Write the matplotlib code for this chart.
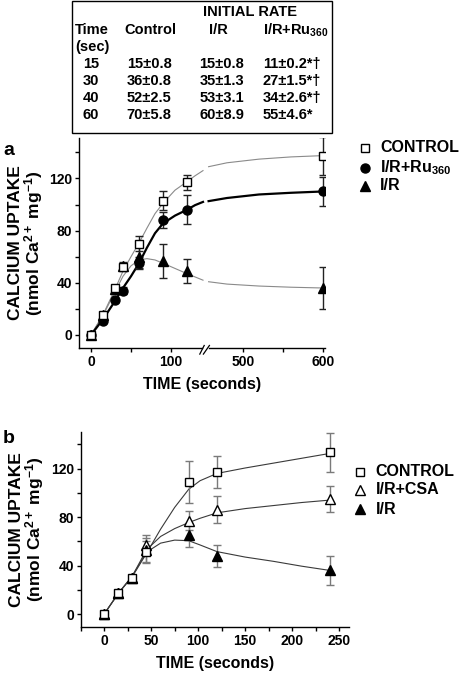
import numpy as np
import matplotlib
matplotlib.use("Agg")
import matplotlib.pyplot as plt
from matplotlib.lines import Line2D
from matplotlib.patches import Rectangle

plt.rcParams['font.family'] = ['Liberation Sans', 'DejaVu Sans']
plt.rcParams['font.weight'] = 'bold'
plt.rcParams['axes.labelweight'] = 'bold'
plt.rcParams['mathtext.fontset'] = 'custom'
plt.rcParams['mathtext.rm'] = 'Liberation Sans:bold'
plt.rcParams['mathtext.it'] = 'Liberation Sans:bold'
plt.rcParams['mathtext.bf'] = 'Liberation Sans:bold'
plt.rcParams['mathtext.default'] = 'rm'

# ---- table data ----
tab_times = ['15', '30', '40', '60']
tab_control = ['15±0.8', '36±0.8', '52±2.5', '70±5.8']
tab_ir = ['15±0.8', '35±1.3', '53±3.1', '60±8.9']
tab_ru = ['11±0.2*†', '27±1.5*†', '34±2.6*†', '55±4.6*']

# ---- panel a data ----
time_a = [0, 15, 30, 40, 60, 90, 120, 600]
ctrl_a = [0, 15, 36, 52, 70, 103, 117, 137.5]
ctrl_a_err = [0, 0.8, 0.8, 2.5, 5.8, 7, 6, 14.5]
ru_a = [0, 11, 27, 34, 55, 88, 96, 110]
ru_a_err = [0, 0.2, 1.5, 2.6, 4.6, 6, 11, 11]
ir_a = [0, 15, 35, 53, 60, 57, 49, 36]
ir_a_err = [0, 0.8, 1.3, 3.1, 8.9, 13, 9, 16]

# fitted curves (before / after the axis break)
fit_a_t1 = [0, 15, 30, 40, 50, 60, 70, 80, 90, 105, 120, 130, 140]
fit_a_t2 = [457, 480, 520, 560, 600]
ctrl_fit_a1 = [0, 15.5, 35, 49, 60, 70.5, 82, 93, 101, 111, 117.5, 122, 126]
ctrl_fit_a2 = [129, 132, 134.8, 136.5, 137.5]
ru_fit_a1 = [0, 12, 26, 36, 45, 55, 67, 78, 85.5, 91.5, 96, 99.5, 102]
ru_fit_a2 = [102.6, 105, 107.7, 109, 110]
ir_fit_a1 = [0, 15, 33, 45, 53, 57.5, 58.5, 57.5, 55, 51, 47, 44.5, 42]
ir_fit_a2 = [40.8, 39, 37.5, 36.6, 36]

# ---- panel b data ----
time_b = [0, 15, 30, 45, 90, 120, 240]
ctrl_b = [0, 17, 30, 51.5, 109, 117, 133.5]
ctrl_b_err = [0, 2, 2, 9, 17, 13, 16]
csa_b = [0, 17, 30, 57, 77, 86, 95]
csa_b_err = [0, 2, 2, 8, 8, 11, 11]
ir_b = [0, 17, 30, 53, 65, 48, 36]
ir_b_err = [0, 2, 2, 10, 10, 9, 12]

fit_b_t = [0, 15, 30, 45, 60, 75, 90, 102, 120, 150, 180, 210, 240]
ctrl_fit_b = [0, 17, 31, 50, 70, 88, 103, 110, 116, 120.5, 124.5, 128.5, 132.5]
csa_fit_b = [0, 17, 31.5, 53, 64, 70.5, 75.5, 79, 83.5, 87, 89.5, 92, 94]
ir_fit_b = [0, 17, 31.5, 51, 58.5, 61, 60.5, 57, 51.5, 47, 43.5, 39.5, 36]

W, H = 464, 674


def px(x, y):
    return x / W, 1 - y / H


BRK_LO, BRK_HI = 143, 453


def fwd(t):
    t = np.asarray(t, dtype=float)
    return np.where(t <= BRK_LO, t, np.where(t >= BRK_HI, t - (BRK_HI - BRK_LO), BRK_LO))


def inv(x):
    x = np.asarray(x, dtype=float)
    return np.where(x <= BRK_LO, x, x + (BRK_HI - BRK_LO))


fig = plt.figure(figsize=(W / 100, H / 100), dpi=100)

# ---- table ----
fig.add_artist(Rectangle(px(72, 133), 260 / W, 132 / H, transform=fig.transFigure,
                         fill=False, lw=1, color='black'))
tfs = 10.5
fig.text(*px(250, 12), 'INITIAL RATE', ha='center', va='center', fontsize=tfs)
fig.text(*px(75, 30), 'Time', ha='left', va='center', fontsize=tfs)
fig.text(*px(75, 47), '(sec)', ha='left', va='center', fontsize=tfs)
fig.text(*px(150, 30), 'Control', ha='center', va='center', fontsize=tfs)
fig.text(*px(218, 30), 'I/R', ha='center', va='center', fontsize=tfs)
fig.text(*px(263, 30), 'I/R+Ru$_{360}$', ha='left', va='center', fontsize=tfs)
for i, y in enumerate([64, 81, 98, 115]):
    fig.text(*px(91, y), tab_times[i], ha='center', va='center', fontsize=tfs)
    fig.text(*px(149, y), tab_control[i], ha='center', va='center', fontsize=tfs)
    fig.text(*px(222, y), tab_ir[i], ha='center', va='center', fontsize=tfs)
    fig.text(*px(263, y), tab_ru[i], ha='left', va='center', fontsize=tfs)


def style_axes(ax):
    for s in ['top', 'right']:
        ax.spines[s].set_visible(False)
    ax.spines['left'].set_linewidth(1)
    ax.spines['bottom'].set_linewidth(1)
    ax.tick_params(which='both', direction='out', length=3, width=1, labelsize=10, pad=2)
    ax.set_yticks([0, 40, 80, 120])
    ax.set_yticks([20, 60, 100, 140], minor=True)
    ax.set_ylabel('CALCIUM UPTAKE\n(nmol Ca$^{2+}$ mg$^{-1}$)', fontsize=12.5, linespacing=0.95,
                  labelpad=3)
    ax.set_xlabel('TIME (seconds)', fontsize=11.5, labelpad=6)


def bold_ticks(ax):
    for lbl in ax.get_xticklabels() + ax.get_yticklabels():
        lbl.set_fontweight('bold')


# ---- panel a ----
ax = fig.add_axes([79 / W, 1 - 348 / H, 246 / W, 210 / H])
ax.set_xscale('function', functions=(fwd, inv))
ax.set_xlim(-15, 602.5)
ax.set_ylim(-10, 151)
style_axes(ax)
ax.set_xticks([0, 100, 500, 600])
ax.set_xticklabels(['0', '100', '500', '600'])
ax.set_xticks([50, 550], minor=True)
bold_ticks(ax)
ax.spines['bottom'].set_visible(False)
xt = ax.get_xaxis_transform()
ax.plot([-15, 139], [0, 0], transform=xt, color='black', lw=1, clip_on=False)
ax.plot([457, 602.5], [0, 0], transform=xt, color='black', lw=1, clip_on=False)
ax.plot([136, 141.5], [-0.029, 0.012], transform=xt, color='black', lw=0.9, clip_on=False)
ax.plot([140.5, 458], [-0.029, 0.012], transform=xt, color='black', lw=0.9, clip_on=False)

ax.plot(fit_a_t1, ctrl_fit_a1, color='#8a8a8a', lw=0.8, zorder=2)
ax.plot(fit_a_t2, ctrl_fit_a2, color='#8a8a8a', lw=0.8, zorder=2)
ax.plot(fit_a_t1, ir_fit_a1, color='#8a8a8a', lw=0.8, zorder=2)
ax.plot(fit_a_t2, ir_fit_a2, color='#8a8a8a', lw=0.8, zorder=2)
ax.plot(fit_a_t1, ru_fit_a1, color='black', lw=1.6, zorder=2)
ax.plot(fit_a_t2, ru_fit_a2, color='black', lw=1.6, zorder=2)

ekw = dict(fmt='none', ecolor='#222222', elinewidth=1, capsize=3.2, capthick=1, zorder=3)
ax.errorbar(time_a, ctrl_a, yerr=ctrl_a_err, **ekw)
ax.errorbar(time_a, ru_a, yerr=ru_a_err, **ekw)
ax.errorbar(time_a, ir_a, yerr=ir_a_err, **ekw)
ax.plot(time_a, ir_a, ls='none', marker='^', ms=6.8, mfc='black', mec='black', zorder=4)
ax.plot(time_a, ru_a, ls='none', marker='o', ms=6.5, mfc='black', mec='black', zorder=5)
ax.plot(time_a, ctrl_a, ls='none', marker='s', ms=5.8, mfc='white', mec='black', mew=1, zorder=6)

# ---- panel b ----
bx = fig.add_axes([80.7 / W, 1 - 627 / H, 268.3 / W, 195 / H])
bx.set_xlim(-25, 260.5)
bx.set_ylim(-10.7, 150.2)
style_axes(bx)
bx.set_xticks([0, 50, 100, 150, 200, 250])
bx.set_xticks([-25, 25, 75, 125, 175, 225], minor=True)
bold_ticks(bx)

for yy in [ctrl_fit_b, csa_fit_b, ir_fit_b]:
    bx.plot(fit_b_t, yy, color='#3a3a3a', lw=0.8, zorder=2)
ekw_b = dict(fmt='none', ecolor='#7a7a7a', elinewidth=1, capsize=3.2, capthick=1, zorder=3)
bx.errorbar(time_b, ctrl_b, yerr=ctrl_b_err, **ekw_b)
bx.errorbar(time_b, csa_b, yerr=csa_b_err, **ekw_b)
bx.errorbar(time_b, ir_b, yerr=ir_b_err, **ekw_b)
bx.plot(time_b, csa_b, ls='none', marker='^', ms=7, mfc='white', mec='black', mew=1, zorder=4)
bx.plot(time_b, ir_b, ls='none', marker='^', ms=7, mfc='black', mec='black', zorder=5)
bx.plot(time_b, ctrl_b, ls='none', marker='s', ms=6, mfc='white', mec='black', mew=1, zorder=6)


# ---- legends ----
def legend_row(x, y, marker, filled, label, ms=6.5):
    fig.add_artist(Line2D([x / W], [1 - y / H], transform=fig.transFigure, marker=marker,
                          ms=ms, mfc='black' if filled else 'white', mec='black', mew=1))
    fig.text(*px(x + 15, y), label, ha='left', va='center', fontsize=11.5)


legend_row(365, 147.5, 's', False, 'CONTROL', ms=6)
legend_row(365, 167.5, 'o', True, 'I/R+Ru$_{360}$')
legend_row(365, 186, '^', True, 'I/R', ms=7)

legend_row(360.5, 472, 's', False, 'CONTROL', ms=6)
legend_row(360.5, 490, '^', False, 'I/R+CSA', ms=7)
legend_row(360.5, 509, '^', True, 'I/R', ms=7)

# panel letters
fig.text(*px(3, 155), 'a', ha='left', va='baseline', fontsize=14)
fig.text(*px(3, 443), 'b', ha='left', va='baseline', fontsize=14)

fig.savefig('out.png', dpi=100)
